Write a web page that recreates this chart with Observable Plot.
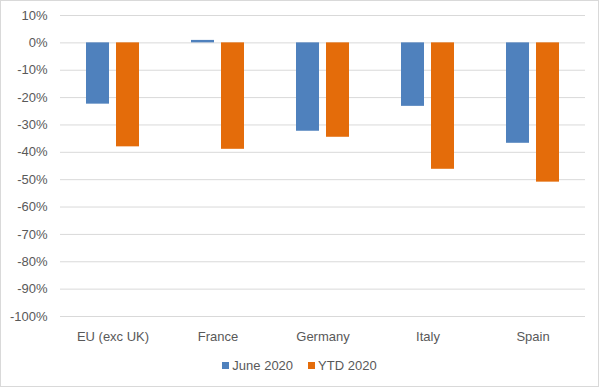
<!DOCTYPE html>
<html><head><meta charset="utf-8">
<script src="https://cdn.jsdelivr.net/npm/d3@7"></script>
<script src="https://cdn.jsdelivr.net/npm/@observablehq/plot@0.6"></script>
<style>
body{margin:0;background:#fff;}
#chart{width:597px;height:385px;border:1px solid #d9d9d9;overflow:hidden;font-family:"Liberation Sans",Arial,sans-serif;background:#fff;}
#chart svg.plot{display:block;}
#chart .lg-swatches{font-family:"Liberation Sans",Arial,sans-serif;font-size:13px;color:#595959;margin:6px 0 0 0;}
#chart .lg-swatches-wrap{display:flex;justify-content:center;align-items:center;min-height:16px;}
#chart .lg-swatch{margin-right:15px;}
#chart .lg-swatch:last-child{margin-right:0;}
#chart .lg-swatch > svg{margin-right:3px;}
</style></head><body><div id="chart"></div><script>
const categories = ["EU (exc UK)", "France", "Germany", "Italy", "Spain"];
const series = ["June 2020", "YTD 2020"];
const june = [-0.224, 0.009, -0.323, -0.232, -0.367];
const ytd = [-0.38, -0.389, -0.345, -0.462, -0.509];
const yTicks = [0.1, 0, -0.1, -0.2, -0.3, -0.4, -0.5, -0.6, -0.7, -0.8, -0.9, -1];
const colors = ["#4F81BD", "#E46C0A"];

const data = [];
categories.forEach((c, i) => {
  data.push({cat: c, series: series[0], value: june[i]});
  data.push({cat: c, series: series[1], value: ytd[i]});
});

const fmt = d => Math.round(d * 100) + "%";

const chart = Plot.plot({
  width: 597,
  height: 350,
  marginTop: 14,
  marginBottom: 35,
  marginLeft: 58,
  marginRight: 13,
  style: {fontFamily: "'Liberation Sans', Arial, sans-serif", fontSize: "13px", color: "#595959", background: "#fff"},
  fx: {domain: categories, padding: 0, label: null, axis: "bottom", tickSize: 0, tickPadding: 15},
  x: {domain: series, paddingInner: 0.23, paddingOuter: 0.84, axis: null},
  y: {domain: [-1, 0.1], ticks: yTicks, tickFormat: fmt, tickSize: 0, tickPadding: 13, label: null, grid: false},
  color: {domain: series, range: colors},
  marks: [
    Plot.ruleY(yTicks, {stroke: "#d9d9d9", strokeWidth: 1}),
    Plot.barY(data, {fx: "cat", x: "series", y: "value", fill: "series"})
  ]
});

const legend = Plot.legend({
  color: {domain: series, range: colors, type: "ordinal"},
  legend: "swatches",
  swatchSize: 7,
  className: "lg"
});

const root = document.getElementById("chart");
root.appendChild(chart);
root.appendChild(legend);
</script></body></html>
